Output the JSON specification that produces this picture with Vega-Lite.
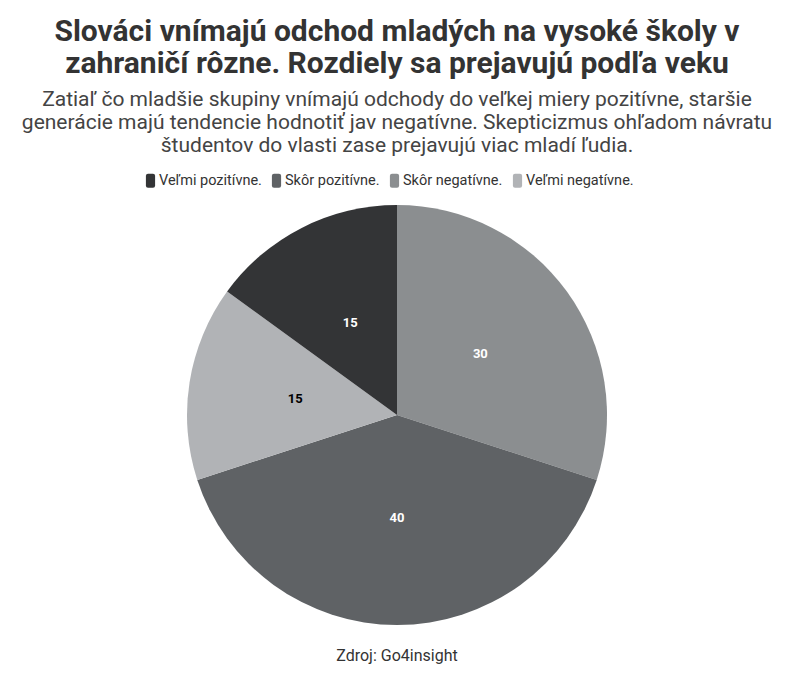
{
  "$schema": "https://vega.github.io/schema/vega-lite/v6.json",
  "background": "white",
  "padding": {"left": 0, "right": 0, "top": 17, "bottom": 10},
  "title": {
    "text": ["Slováci vnímajú odchod mladých na vysoké školy v", "zahraničí rôzne. Rozdiely sa prejavujú podľa veku"],
    "subtitle": ["Zatiaľ čo mladšie skupiny vnímajú odchody do veľkej miery pozitívne, staršie", "generácie majú tendencie hodnotiť jav negatívne. Skepticizmus ohľadom návratu", "študentov do vlasti zase prejavujú viac mladí ľudia."],
    "anchor": "middle",
    "font": "Roboto",
    "fontSize": 30,
    "fontWeight": "bold",
    "color": "#333333",
    "lineHeight": 32,
    "subtitleFont": "Roboto",
    "subtitleFontSize": 21,
    "subtitleColor": "#444444",
    "subtitleLineHeight": 23,
    "subtitlePadding": 10,
    "offset": 17
  },
  "vconcat": [
    {
      "width": 794,
      "height": 420,
      "title": {"text": "Zdroj: Go4insight", "orient": "bottom", "anchor": "middle", "font": "Roboto", "fontSize": 16, "fontWeight": "normal", "color": "#333333", "offset": 23},
      "data": {
        "values": [
          {"category": "Skôr negatívne.", "value": 30, "order": 1},
          {"category": "Skôr pozitívne.", "value": 40, "order": 2},
          {"category": "Veľmi negatívne.", "value": 15, "order": 3},
          {"category": "Veľmi pozitívne.", "value": 15, "order": 4}
        ]
      },
      "encoding": {
        "theta": {"field": "value", "type": "quantitative", "stack": true},
        "order": {"field": "order", "type": "quantitative"}
      },
      "layer": [
        {
          "mark": {"type": "arc", "outerRadius": 210},
          "encoding": {
            "color": {
              "field": "category",
              "type": "nominal",
              "scale": {
                "domain": ["Veľmi pozitívne.", "Skôr pozitívne.", "Skôr negatívne.", "Veľmi negatívne."],
                "range": ["#333436", "#5f6265", "#8b8e90", "#b1b3b6"]
              },
              "legend": {
                "title": null,
                "orient": "none",
                "direction": "horizontal",
                "legendX": 143,
                "legendY": -32,
                "symbolType": "M-0.65,-0.7 Q-0.65,-1 -0.35,-1 L0.35,-1 Q0.65,-1 0.65,-0.7 L0.65,0.7 Q0.65,1 0.35,1 L-0.35,1 Q-0.65,1 -0.65,0.7 Z",
                "symbolSize": 200,
                "symbolStrokeWidth": 0,
                "symbolOpacity": 1,
                "labelFont": "Roboto",
                "labelFontSize": 14.5,
                "labelColor": "#333333",
                "labelOffset": 1,
                "columnPadding": 7
              }
            }
          }
        },
        {
          "mark": {"type": "text", "radius": 103, "font": "Roboto", "fontSize": 13, "fontWeight": "bold"},
          "encoding": {
            "text": {"field": "value", "type": "quantitative"},
            "color": {"condition": {"test": "datum.category === 'Veľmi negatívne.'", "value": "#000000"}, "value": "#ffffff"}
          }
        }
      ]
    }
  ],
  "config": {
    "view": {"stroke": null}
  }
}
